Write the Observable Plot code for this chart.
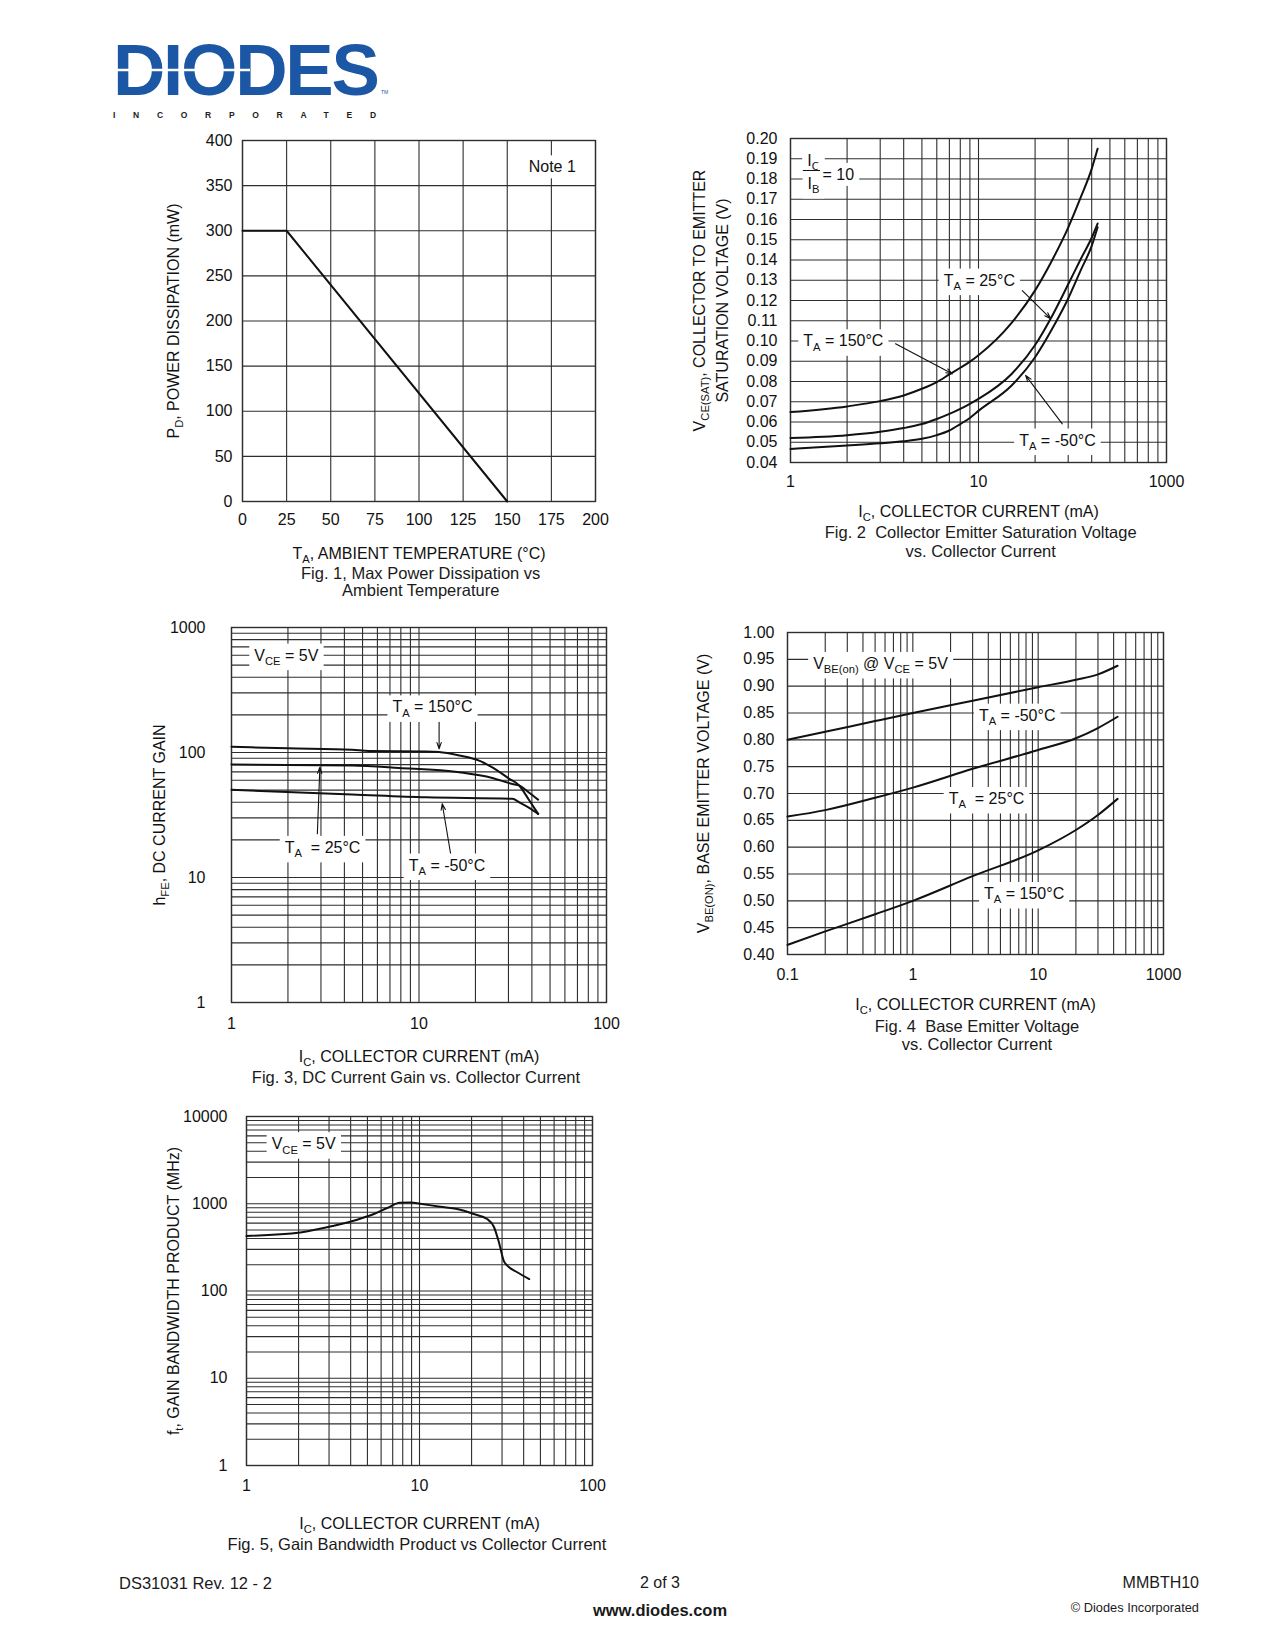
<!DOCTYPE html>
<html><head><meta charset="utf-8">
<script src="https://cdn.jsdelivr.net/npm/d3@7"></script>
<script src="https://cdn.jsdelivr.net/npm/@observablehq/plot@0.6"></script>
<style>
html,body{margin:0;padding:0;background:#fff;}
#page{position:relative;width:1275px;height:1650px;font-family:"Liberation Sans",Arial,sans-serif;color:#1a1a1a;overflow:hidden;background:#fff;}
.cap{position:absolute;font-size:16.5px;text-align:center;white-space:pre;transform:translateX(-50%);}
.ft{position:absolute;white-space:pre;}
</style></head><body><div id="page"></div><script>
// ---------------- DATA ----------------
// Fig 1: power derating
const fig1Temp = [0, 25, 150];
const fig1Power = [300, 300, 0];
const fig1XTicks = [0, 25, 50, 75, 100, 125, 150, 175, 200];
const fig1YTicks = [0, 50, 100, 150, 200, 250, 300, 350, 400];
const fig1Notes = [{x: 175.5, y: 370.4, text: "Note 1"}];

// Fig 2: VCE(sat) vs IC
const fig2Current = [1, 2, 3, 4, 5, 6, 7, 8, 9, 10, 15, 20, 25, 30, 35, 40, 43];
const fig2V150 = [0.0649, 0.0677, 0.0703, 0.0731, 0.0764, 0.0797, 0.0835, 0.0868, 0.0898, 0.093, 0.109, 0.125, 0.141, 0.156, 0.171, 0.185, 0.1949];
const fig2V25  = [0.0521, 0.0535, 0.0552, 0.057, 0.059, 0.0615, 0.064, 0.0665, 0.069, 0.0714, 0.0837, 0.098, 0.1135, 0.128, 0.1405, 0.151, 0.158];
const fig2Vm50 = [0.0467, 0.0484, 0.0495, 0.0505, 0.0517, 0.0535, 0.0558, 0.059, 0.062, 0.0655, 0.078, 0.092, 0.107, 0.121, 0.135, 0.147, 0.1562];
const fig2XTicks = [1, 10, 100];
const fig2XLabels = ["1", "10", "1000"];
const fig2YTicks = [0.04, 0.05, 0.06, 0.07, 0.08, 0.09, 0.10, 0.11, 0.12, 0.13, 0.14, 0.15, 0.16, 0.17, 0.18, 0.19, 0.20];
const fig2Notes = [
  {x: 10.1, y: 0.1299, text: "T_{A} = 25°C"},
  {x: 1.91, y: 0.0999, text: "T_{A} = 150°C"},
  {x: 26.3, y: 0.0509, text: "T_{A} = -50°C"}
];
const fig2Arrows = [
  {x1: 17.1, y1: 0.1249, x2: 24.2, y2: 0.111},
  {x1: 3.62, y1: 0.0986, x2: 7.25, y2: 0.0838},
  {x1: 27.9, y1: 0.0591, x2: 17.8, y2: 0.083}
];
const fig2Fraction = [{x: 1.325, y: 0.1891, text: "I_{C}"}, {x: 1.325, y: 0.1776, text: "I_{B}"}];
const fig2FractionBar = [{x1: 1.17, x2: 1.444, y: 0.1842}];
const fig2Ratio = [{x: 1.48, y: 0.1821, text: "= 10"}];

// Fig 3: hFE vs IC
const fig3Ic150 = [1, 2, 4.4, 5.4, 10.9, 12.8, 16.4, 20.9, 24.6, 30.3, 34.2, 38.7, 43.2];
const fig3H150  = [111, 108, 105, 103, 102, 101, 94.6, 86, 76, 61.6, 54.5, 41.5, 32.3];
const fig3Ic25  = [1, 4.4, 7.8, 16.4, 24.6, 31.5, 34.2, 38.7, 43.2];
const fig3H25   = [80, 78.7, 75.3, 69.5, 62.6, 56, 54.5, 47.6, 41.9];
const fig3Icm50 = [1, 4.4, 10.9, 31.5, 34.2, 38.7, 43.2];
const fig3Hm50  = [50.3, 46.2, 43.8, 42.6, 40, 36.1, 32.3];
const fig3XTicks = [1, 10, 100];
const fig3YTicks = [1, 10, 100, 1000];
const fig3Notes = [
  {x: 1.96, y: 597, text: "V_{CE} = 5V"},
  {x: 11.8, y: 230, text: "T_{A} = 150°C"},
  {x: 3.06, y: 17.3, text: "T_{A}  = 25°C"},
  {x: 14.1, y: 12.5, text: "T_{A} = -50°C"}
];
const fig3Arrows = [
  {x1: 12.8, y1: 180, x2: 12.8, y2: 107},
  {x1: 2.87, y1: 22.4, x2: 2.96, y2: 76.3},
  {x1: 14.8, y1: 15.0, x2: 13.3, y2: 38.9}
];

// Fig 4: VBE(on) vs IC
const fig4Current = [0.1, 0.2, 0.5, 1, 3, 10, 20, 30, 43];
const fig4Vm50 = [0.80, 0.815, 0.835, 0.850, 0.873, 0.898, 0.912, 0.922, 0.938];
const fig4V25  = [0.657, 0.669, 0.692, 0.711, 0.746, 0.781, 0.803, 0.822, 0.843];
const fig4V150 = [0.418, 0.443, 0.475, 0.500, 0.546, 0.594, 0.632, 0.660, 0.690];
const fig4XTicks = [0.1, 1, 10, 100];
const fig4XLabels = ["0.1", "1", "10", "1000"];
const fig4YTicks = [0.40, 0.45, 0.50, 0.55, 0.60, 0.65, 0.70, 0.75, 0.80, 0.85, 0.90, 0.95, 1.00];
const fig4Notes = [
  {x: 0.552, y: 0.9417, text: "V_{BE(on)} @ V_{CE} = 5V"},
  {x: 6.8, y: 0.8453, text: "T_{A} = -50°C"},
  {x: 3.87, y: 0.69, text: "T_{A}  = 25°C"},
  {x: 7.73, y: 0.513, text: "T_{A} = 150°C"}
];

// Fig 5: fT vs IC
const fig5Current = [1, 2.05, 3.2, 4.36, 5.45, 6.5, 7.7, 8.9, 10.1, 13.2, 16.5, 20.6, 24.6, 26.9, 28.8, 30.7, 32.2, 36.7, 43.1];
const fig5Ft      = [428, 469, 560, 656, 762, 893, 1026, 1035, 1000, 924, 869, 762, 669, 545, 360, 222, 195, 164, 137];
const fig5XTicks = [1, 10, 100];
const fig5YTicks = [1, 10, 100, 1000, 10000];
const fig5Notes = [{x: 2.14, y: 4830, text: "V_{CE} = 5V"}];

// ---------------- HELPERS ----------------
const NS = "http://www.w3.org/2000/svg";
const GRID = "#2e2e2e";
const INK = "#111";
const page = document.getElementById("page");
const zip = (xs, ys) => xs.map((x, i) => ({x, y: ys[i]}));
const logGrid = (lo, hi) => d3.scaleLog().domain([lo, hi]).ticks();

function richText(svg) {
  const walker = document.createTreeWalker(svg, NodeFilter.SHOW_TEXT);
  const nodes = [];
  while (walker.nextNode()) if (walker.currentNode.nodeValue.includes("_{")) nodes.push(walker.currentNode);
  for (const node of nodes) {
    const parts = node.nodeValue.split(/(_\{[^}]*\})/);
    const frag = document.createDocumentFragment();
    let lowered = false;
    for (const p of parts) {
      if (!p) continue;
      if (p.startsWith("_{")) {
        const t = document.createElementNS(NS, "tspan");
        t.setAttribute("style", "font-size:0.7em");
        t.setAttribute("dy", 4.5);
        t.textContent = p.slice(2, -1);
        frag.appendChild(t);
        lowered = true;
      } else if (lowered) {
        const t = document.createElementNS(NS, "tspan");
        t.setAttribute("dy", -4.5);
        t.textContent = p;
        frag.appendChild(t);
        lowered = false;
      } else {
        frag.appendChild(document.createTextNode(p));
      }
    }
    node.parentNode.replaceChild(frag, node);
  }
}

function boxTexts(svg) {
  svg.querySelectorAll('g[aria-description="boxed"] text').forEach(t => {
    const b = t.getBBox();
    const r = document.createElementNS(NS, "rect");
    r.setAttribute("x", b.x - 5);
    r.setAttribute("y", b.y - 3);
    r.setAttribute("width", b.width + 10);
    r.setAttribute("height", b.height + 6);
    r.setAttribute("fill", "white");
    r.setAttribute("stroke", "none");
    const tr = t.getAttribute("transform");
    if (tr) r.setAttribute("transform", tr);
    t.parentNode.insertBefore(r, t);
  });
}

function chart(o) {
  const marks = [
    Plot.ruleX(o.xGrid, {stroke: GRID, strokeWidth: 1.1}),
    Plot.ruleY(o.yGrid, {stroke: GRID, strokeWidth: 1.1}),
    Plot.frame({stroke: GRID, strokeWidth: 1.4}),
    Plot.axisX({ticks: o.xTicks, tickFormat: o.xFormat, tickSize: 0, tickPadding: o.xPad, label: null, fill: INK}),
    Plot.axisY({ticks: o.yTicks, tickFormat: o.yFormat, tickSize: 0, tickPadding: o.yPad, label: null, fill: INK}),
    ...o.series.map(s => Plot.line(s, {x: "x", y: "y", stroke: INK, strokeWidth: 2, curve: o.curve || "monotone-x"})),
    ...(o.arrows ? [Plot.arrow(o.arrows, {x1: "x1", y1: "y1", x2: "x2", y2: "y2", stroke: INK, strokeWidth: 1.1, headLength: 9, headAngle: 38})] : []),
    ...(o.notes ? [Plot.text(o.notes, {x: "x", y: "y", text: "text", fill: INK, ariaDescription: "boxed"})] : []),
    ...(o.extra || []),
    Plot.text([o.xTitle], {text: d => d, frameAnchor: "bottom", textAnchor: "middle", dy: o.xTitleDy, lineAnchor: "bottom", fill: INK}),
    Plot.text([o.yTitle], {text: d => d, frameAnchor: "left", textAnchor: "middle", dx: -o.yTitleDx, rotate: -90, lineAnchor: "top", lineHeight: o.yLineHeight || 1, fill: INK})
  ];
  const svg = Plot.plot({
    width: o.width, height: o.height,
    marginLeft: o.mL, marginTop: o.mT, marginRight: o.mR, marginBottom: o.mB,
    x: {type: o.xType || "linear", domain: o.xDomain},
    y: {type: o.yType || "linear", domain: o.yDomain},
    style: {position: "absolute", left: o.left + "px", top: o.top + "px", fontFamily: '"Liberation Sans", Arial, sans-serif', fontSize: "16px", color: INK, background: "transparent", overflow: "visible"},
    marks
  });
  page.appendChild(svg);
  richText(svg);
  boxTexts(svg);
  return svg;
}

const fmt = (ticks, labels) => { const m = new Map(ticks.map((t, i) => [t, labels[i]])); return d => m.get(d) ?? ""; };

// ---------------- LOGO ----------------
page.insertAdjacentHTML("beforeend", `
<svg style="position:absolute;left:100px;top:30px" width="310" height="100">
  <text x="13" y="65" font-family="Liberation Sans, Arial" font-weight="bold" font-size="72.6" letter-spacing="-2.3" fill="#1b57a5">DIODES</text>
  <line x1="13" x2="150" y1="40" y2="40" stroke="white" stroke-width="2.5"/>
  <text x="13" y="88.3" font-family="Liberation Sans, Arial" font-weight="bold" font-size="8.5" letter-spacing="17.7" fill="#222">INCORPORATED</text>
  <text x="281" y="64" font-family="Liberation Sans, Arial" font-size="5" fill="#1b57a5">TM</text>
</svg>`);

// ---------------- CHARTS ----------------
chart({
  left: 130, top: 110, width: 505, height: 501, mL: 112, mT: 30, mR: 40, mB: 110,
  xDomain: [0, 200], yDomain: [0, 400],
  xGrid: fig1XTicks, yGrid: fig1YTicks,
  xTicks: fig1XTicks, yTicks: fig1YTicks, xFormat: d => String(d), yFormat: d => String(d),
  xPad: 12, yPad: 10,
  series: [zip(fig1Temp, fig1Power)], curve: "linear",
  notes: fig1Notes,
  xTitle: "T_{A}, AMBIENT TEMPERATURE (°C)", xTitleDy: 57,
  yTitle: "P_{D}, POWER DISSIPATION (mW)", yTitleDx: 75
});

chart({
  left: 680, top: 110, width: 526, height: 422, mL: 110, mT: 28, mR: 40, mB: 70,
  xType: "log", xDomain: [1, 100], yDomain: [0.04, 0.20],
  xGrid: logGrid(1, 100), yGrid: fig2YTicks,
  xTicks: fig2XTicks, yTicks: fig2YTicks, xFormat: fmt(fig2XTicks, fig2XLabels), yFormat: d3.format(".2f"),
  xPad: 13, yPad: 13,
  series: [zip(fig2Current, fig2V150), zip(fig2Current, fig2V25), zip(fig2Current, fig2Vm50)],
  arrows: fig2Arrows, notes: fig2Notes,
  extra: [
    Plot.text(fig2Fraction, {x: "x", y: "y", text: "text", fill: INK, ariaDescription: "boxed"}),
    Plot.text(fig2Ratio, {x: "x", y: "y", text: "text", textAnchor: "start", fill: INK, ariaDescription: "boxed"}),
    Plot.ruleY(fig2FractionBar, {y: "y", x1: "x1", x2: "x2", stroke: INK, strokeWidth: 1})
  ],
  xTitle: "I_{C}, COLLECTOR CURRENT (mA)", xTitleDy: 54,
  yTitle: "V_{CE(SAT)}, COLLECTOR TO EMITTER\nSATURATION VOLTAGE (V)", yTitleDx: 102, yLineHeight: 1.45
});

chart({
  left: 130, top: 600, width: 516, height: 472, mL: 101, mT: 27, mR: 40, mB: 70,
  xType: "log", yType: "log", xDomain: [1, 100], yDomain: [1, 1000],
  xGrid: logGrid(1, 100), yGrid: logGrid(1, 1000),
  xTicks: fig3XTicks, yTicks: fig3YTicks, xFormat: d => String(d), yFormat: d => String(d),
  xPad: 15, yPad: 26,
  series: [zip(fig3Ic150, fig3H150), zip(fig3Ic25, fig3H25), zip(fig3Icm50, fig3Hm50)],
  arrows: fig3Arrows, notes: fig3Notes,
  xTitle: "I_{C}, COLLECTOR CURRENT (mA)", xTitleDy: 59,
  yTitle: "h_{FE}, DC CURRENT GAIN", yTitleDx: 78
});

chart({
  left: 680, top: 605, width: 523, height: 419, mL: 107, mT: 27, mR: 40, mB: 70,
  xType: "log", xDomain: [0.1, 100], yDomain: [0.4, 1.0],
  xGrid: logGrid(0.1, 100), yGrid: fig4YTicks,
  xTicks: fig4XTicks, yTicks: fig4YTicks, xFormat: fmt(fig4XTicks, fig4XLabels), yFormat: d3.format(".2f"),
  xPad: 14, yPad: 13,
  series: [zip(fig4Current, fig4Vm50), zip(fig4Current, fig4V25), zip(fig4Current, fig4V150)],
  notes: fig4Notes,
  xTitle: "I_{C}, COLLECTOR CURRENT (mA)", xTitleDy: 55,
  yTitle: "V_{BE(ON)}, BASE EMITTER VOLTAGE (V)", yTitleDx: 90
});

chart({
  left: 130, top: 1090, width: 502, height: 445, mL: 116, mT: 26, mR: 40, mB: 70,
  xType: "log", yType: "log", xDomain: [1, 100], yDomain: [1, 10000],
  xGrid: logGrid(1, 100), yGrid: logGrid(1, 10000),
  xTicks: fig5XTicks, yTicks: fig5YTicks, xFormat: d => String(d), yFormat: d => String(d),
  xPad: 14, yPad: 19,
  series: [zip(fig5Current, fig5Ft)],
  notes: fig5Notes,
  xTitle: "I_{C}, COLLECTOR CURRENT (mA)", xTitleDy: 63,
  yTitle: "f_{t}, GAIN BANDWIDTH PRODUCT (MHz)", yTitleDx: 79
});

// ---------------- CAPTIONS & FOOTER ----------------
const captions = [
  {cx: 420.7, top: 564.5, lh: 17.5, lines: ["Fig. 1, Max Power Dissipation vs", "Ambient Temperature"]},
  {cx: 980.7, top: 523.2, lh: 19, lines: ["Fig. 2  Collector Emitter Saturation Voltage", "vs. Collector Current"]},
  {cx: 416, top: 1068, lh: 18, lines: ["Fig. 3, DC Current Gain vs. Collector Current"]},
  {cx: 977, top: 1016.5, lh: 18.3, lines: ["Fig. 4  Base Emitter Voltage", "vs. Collector Current"]},
  {cx: 417, top: 1535.3, lh: 18, lines: ["Fig. 5, Gain Bandwidth Product vs Collector Current"]}
];
for (const c of captions) {
  const d = document.createElement("div");
  d.className = "cap";
  d.style.left = c.cx + "px"; d.style.top = c.top + "px"; d.style.lineHeight = c.lh + "px";
  d.textContent = c.lines.join("\n");
  page.appendChild(d);
}
const footer = [
  {text: "DS31031 Rev. 12 - 2", x: 119, cy: 1583, size: 16.5, align: "left"},
  {text: "2 of 3", x: 660, cy: 1583, size: 16, align: "center"},
  {text: "MMBTH10", x: 1199, cy: 1583, size: 16, align: "right"},
  {text: "www.diodes.com", x: 660, cy: 1610, size: 16.5, align: "center", bold: true},
  {text: "© Diodes Incorporated", x: 1199, cy: 1607.5, size: 12.8, align: "right"}
];
for (const f of footer) {
  const d = document.createElement("div");
  d.className = "ft";
  d.style.fontSize = f.size + "px"; d.style.lineHeight = "20px";
  d.style.top = (f.cy - 10) + "px";
  if (f.bold) d.style.fontWeight = "bold";
  if (f.align === "left") d.style.left = f.x + "px";
  else if (f.align === "right") { d.style.right = (1275 - f.x) + "px"; }
  else { d.style.left = f.x + "px"; d.style.transform = "translateX(-50%)"; }
  d.textContent = f.text;
  page.appendChild(d);
}
</script></body></html>
